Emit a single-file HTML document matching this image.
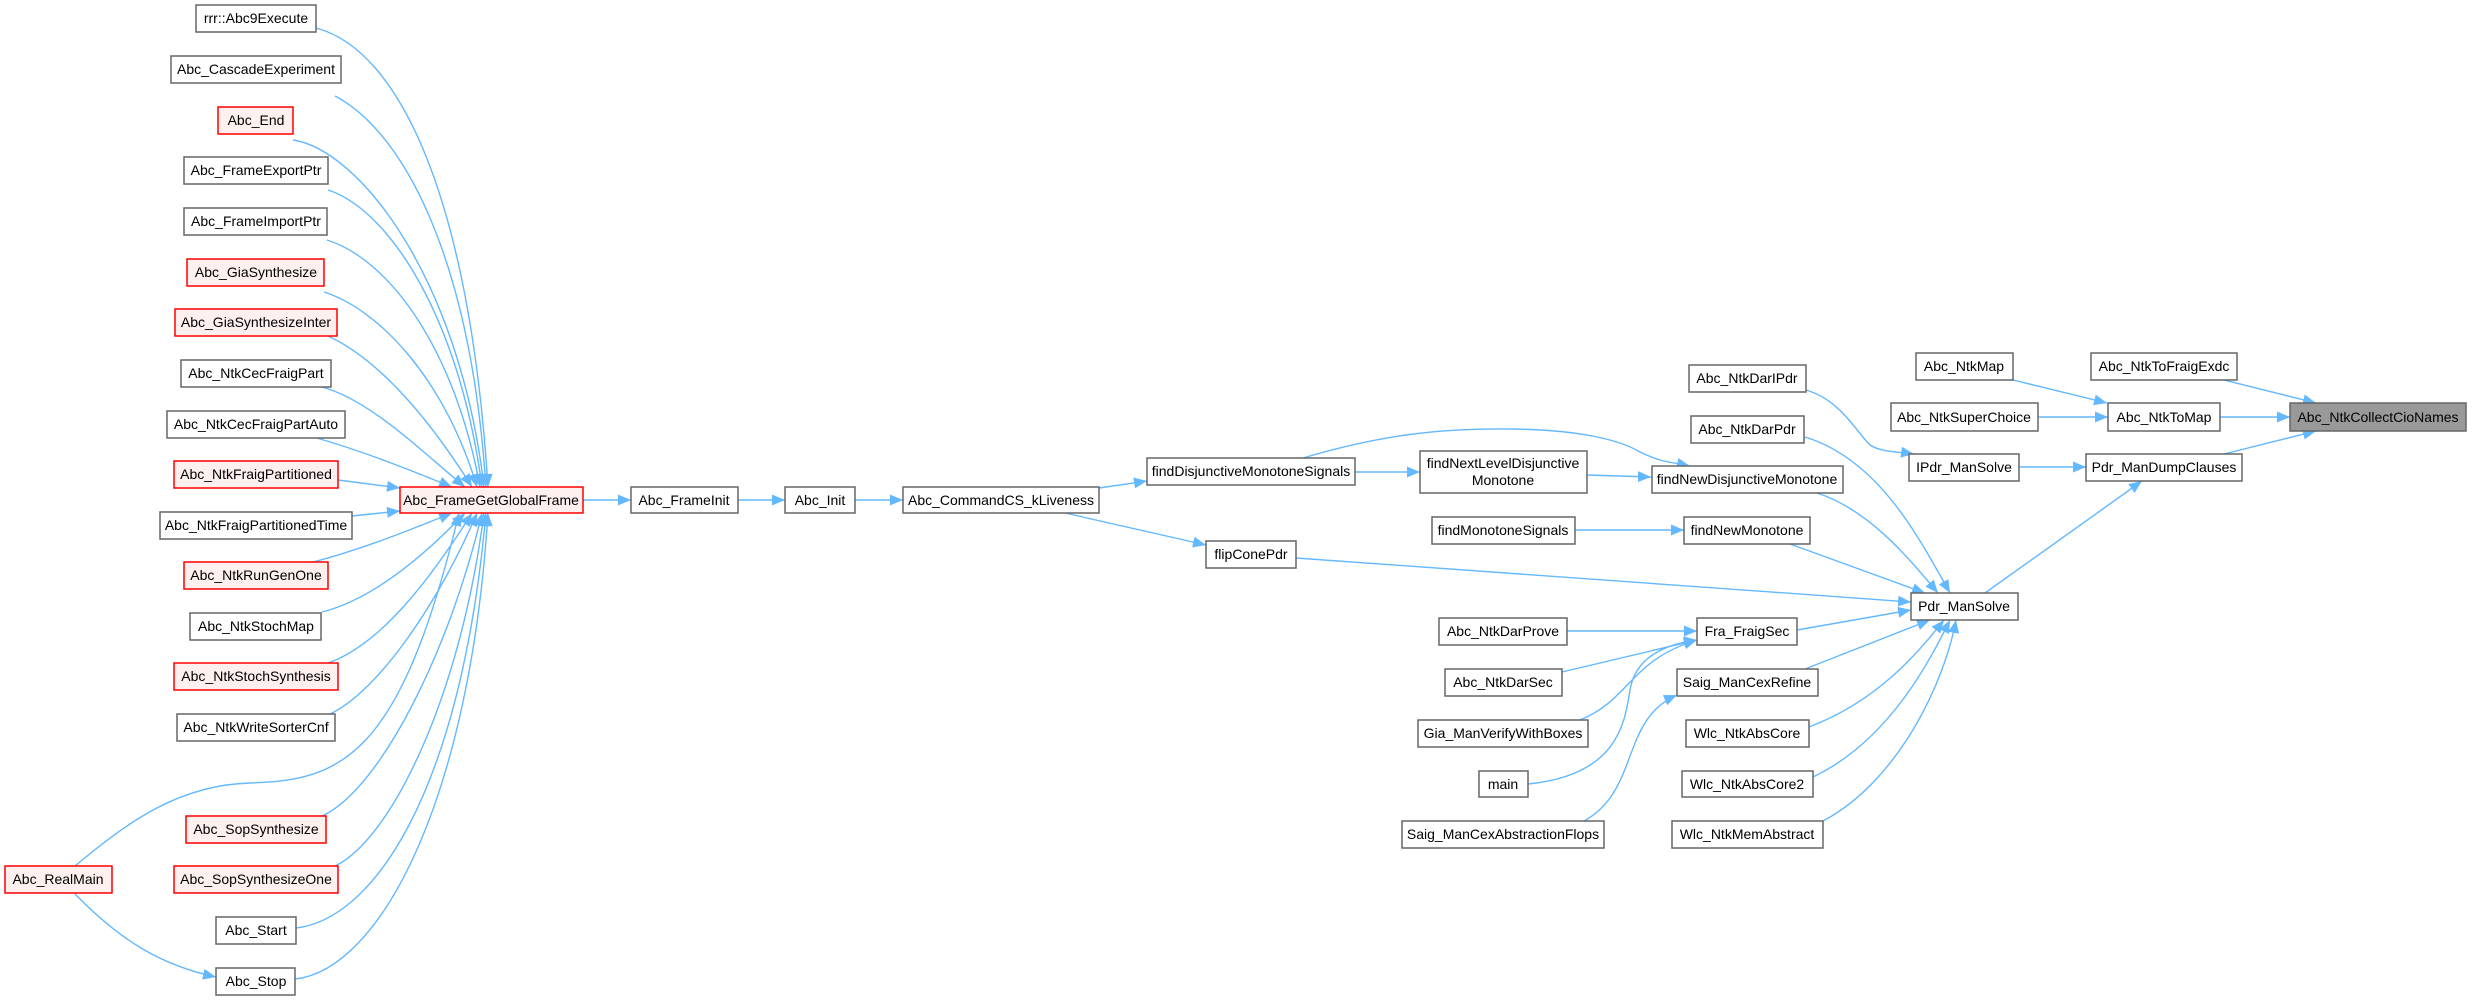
<!DOCTYPE html>
<html><head><meta charset="utf-8"><style>
html,body{margin:0;padding:0;background:#fff;}
svg{display:block;}
text{font-family:"Liberation Sans",Arial,sans-serif;font-size:14px;fill:#000;text-anchor:middle;}
.n{fill:#fff;stroke:#666;stroke-width:1.5;}
.r{fill:#fff0f0;stroke:#ff0000;stroke-width:1.5;}
.g{fill:#999;stroke:#666;stroke-width:1.5;}
.e{fill:none;stroke:#63b8ff;stroke-width:1.4;marker-end:url(#a);}
</style></head><body>
<svg width="2472" height="1000" viewBox="0 0 2472 1000" xmlns="http://www.w3.org/2000/svg">
<defs><marker id="a" markerUnits="userSpaceOnUse" markerWidth="14" markerHeight="12" refX="13" refY="5.5" orient="auto"><path d="M0,0 L13,5.5 L0,11 z" fill="#63b8ff"/></marker></defs>

<!-- edges to FrameGetGlobalFrame from above -->
<path class="e" d="M316,28 C400,50 470,200 488,487"/>
<path class="e" d="M335,96 C400,130 470,250 486,487"/>
<path class="e" d="M293,140 C360,150 460,280 484,487"/>
<path class="e" d="M328,190 C390,210 460,320 482,487"/>
<path class="e" d="M327,240 C390,260 455,350 480,487"/>
<path class="e" d="M324,292 C380,310 445,380 477,487"/>
<path class="e" d="M328,336 C380,360 430,420 472,487"/>
<path class="e" d="M322,387 C370,400 420,450 465,487"/>
<path class="e" d="M313,437 C360,450 410,470 452,487"/>
<path class="e" d="M338,480 L400,488"/>
<!-- from below -->
<path class="e" d="M352,516 L400,511"/>
<path class="e" d="M313,562 C360,550 410,530 452,513"/>
<path class="e" d="M322,612 C370,600 420,560 465,513"/>
<path class="e" d="M328,663 C380,645 430,580 472,513"/>
<path class="e" d="M330,714 C380,690 440,600 477,513"/>
<path class="e" d="M75,866 C130,820 180,785 250,783 C340,780 400,760 459,513"/>
<path class="e" d="M322,816 C380,790 450,650 482,513"/>
<path class="e" d="M335,866 C390,840 460,700 484,513"/>
<path class="e" d="M296,928 C370,920 460,800 486,513"/>
<path class="e" d="M295,979 C380,970 470,800 488,513"/>
<path class="e" d="M75,894 C120,940 160,965 216,977"/>

<!-- chain -->
<path class="e" d="M583,500 L631,500"/>
<path class="e" d="M738,500 L785,500"/>
<path class="e" d="M855,500 L903,500"/>
<path class="e" d="M1099,488 L1147,481"/>
<path class="e" d="M1065,513 L1206,545"/>
<path class="e" d="M1355,472 L1420,472"/>
<path class="e" d="M1587,475 L1651,477"/>
<path class="e" d="M1303,458 C1380,435 1440,428 1513,429 C1580,430 1620,440 1640,452 C1660,462 1670,462 1690,466"/>
<path class="e" d="M1575,530 L1684,530"/>
<path class="e" d="M1296,558 L1911,602"/>
<path class="e" d="M1817,493 C1870,510 1910,560 1938,593"/>
<path class="e" d="M1790,544 L1925,593"/>
<path class="e" d="M1806,390 C1840,400 1855,430 1870,445 C1880,452 1900,452 1914,454"/>
<path class="e" d="M1805,437 C1880,460 1920,540 1950,593"/>
<path class="e" d="M1797,630 L1911,610"/>
<path class="e" d="M1567,631 L1697,631"/>
<path class="e" d="M1562,672 L1697,640"/>
<path class="e" d="M1580,720 C1630,700 1630,660 1697,640"/>
<path class="e" d="M1528,784 C1620,775 1625,720 1630,690 C1635,660 1660,645 1697,640"/>
<path class="e" d="M1584,821 C1640,790 1620,720 1677,695"/>
<path class="e" d="M1805,669 L1930,620"/>
<path class="e" d="M1809,727 C1880,700 1920,650 1944,620"/>
<path class="e" d="M1813,777 C1890,740 1930,660 1950,620"/>
<path class="e" d="M1823,821 C1900,780 1945,680 1956,620"/>
<path class="e" d="M1985,593 L2142,481"/>
<path class="e" d="M2019,467 L2086,467"/>
<path class="e" d="M2224,454 L2316,431"/>
<path class="e" d="M2013,380 L2107,403"/>
<path class="e" d="M2038,417 L2108,417"/>
<path class="e" d="M2220,417 L2290,417"/>
<path class="e" d="M2224,380 L2316,403"/>

<!-- left column nodes -->
<rect class="n" x="196" y="5" width="120" height="27"/><text x="256" y="23">rrr::Abc9Execute</text>
<rect class="n" x="171" y="56" width="170" height="27"/><text x="256" y="74">Abc_CascadeExperiment</text>
<rect class="r" x="218" y="107" width="75" height="27"/><text x="256" y="125">Abc_End</text>
<rect class="n" x="184" y="157" width="144" height="27"/><text x="256" y="175">Abc_FrameExportPtr</text>
<rect class="n" x="184" y="208" width="143" height="27"/><text x="256" y="226">Abc_FrameImportPtr</text>
<rect class="r" x="187" y="259" width="137" height="27"/><text x="256" y="277">Abc_GiaSynthesize</text>
<rect class="r" x="175" y="309" width="162" height="27"/><text x="256" y="327">Abc_GiaSynthesizeInter</text>
<rect class="n" x="181" y="360" width="150" height="27"/><text x="256" y="378">Abc_NtkCecFraigPart</text>
<rect class="n" x="167" y="411" width="178" height="27"/><text x="256" y="429">Abc_NtkCecFraigPartAuto</text>
<rect class="r" x="174" y="461" width="164" height="27"/><text x="256" y="479">Abc_NtkFraigPartitioned</text>
<rect class="n" x="160" y="512" width="192" height="27"/><text x="256" y="530">Abc_NtkFraigPartitionedTime</text>
<rect class="r" x="184" y="562" width="144" height="27"/><text x="256" y="580">Abc_NtkRunGenOne</text>
<rect class="n" x="190" y="613" width="131" height="27"/><text x="256" y="631">Abc_NtkStochMap</text>
<rect class="r" x="174" y="663" width="164" height="27"/><text x="256" y="681">Abc_NtkStochSynthesis</text>
<rect class="n" x="177" y="714" width="158" height="27"/><text x="256" y="732">Abc_NtkWriteSorterCnf</text>
<rect class="r" x="186" y="816" width="140" height="27"/><text x="256" y="834">Abc_SopSynthesize</text>
<rect class="r" x="174" y="866" width="164" height="27"/><text x="256" y="884">Abc_SopSynthesizeOne</text>
<rect class="n" x="216" y="917" width="80" height="27"/><text x="256" y="935">Abc_Start</text>
<rect class="n" x="216" y="968" width="79" height="27"/><text x="256" y="986">Abc_Stop</text>
<rect class="r" x="5" y="866" width="107" height="27"/><text x="58" y="884">Abc_RealMain</text>

<!-- middle -->
<rect class="r" x="400" y="487" width="183" height="26"/><text x="491" y="505">Abc_FrameGetGlobalFrame</text>
<rect class="n" x="631" y="487" width="107" height="26"/><text x="684" y="505">Abc_FrameInit</text>
<rect class="n" x="785" y="487" width="70" height="26"/><text x="820" y="505">Abc_Init</text>
<rect class="n" x="903" y="487" width="196" height="26"/><text x="1001" y="505">Abc_CommandCS_kLiveness</text>
<rect class="n" x="1147" y="458" width="208" height="27"/><text x="1251" y="476">findDisjunctiveMonotoneSignals</text>
<rect class="n" x="1206" y="541" width="90" height="27"/><text x="1251" y="559">flipConePdr</text>
<rect class="n" x="1420" y="451" width="167" height="42"/><text x="1503" y="468">findNextLevelDisjunctive</text><text x="1503" y="485">Monotone</text>
<rect class="n" x="1432" y="517" width="143" height="27"/><text x="1503" y="535">findMonotoneSignals</text>
<rect class="n" x="1439" y="618" width="128" height="27"/><text x="1503" y="636">Abc_NtkDarProve</text>
<rect class="n" x="1445" y="669" width="117" height="27"/><text x="1503" y="687">Abc_NtkDarSec</text>
<rect class="n" x="1418" y="720" width="170" height="27"/><text x="1503" y="738">Gia_ManVerifyWithBoxes</text>
<rect class="n" x="1479" y="771" width="49" height="26"/><text x="1503" y="789">main</text>
<rect class="n" x="1402" y="821" width="202" height="27"/><text x="1503" y="839">Saig_ManCexAbstractionFlops</text>

<!-- right -->
<rect class="n" x="1689" y="365" width="117" height="27"/><text x="1747" y="383">Abc_NtkDarIPdr</text>
<rect class="n" x="1691" y="416" width="113" height="27"/><text x="1747" y="434">Abc_NtkDarPdr</text>
<rect class="n" x="1652" y="466" width="191" height="27"/><text x="1747" y="484">findNewDisjunctiveMonotone</text>
<rect class="n" x="1684" y="517" width="126" height="27"/><text x="1747" y="535">findNewMonotone</text>
<rect class="n" x="1697" y="618" width="100" height="27"/><text x="1747" y="636">Fra_FraigSec</text>
<rect class="n" x="1677" y="669" width="141" height="27"/><text x="1747" y="687">Saig_ManCexRefine</text>
<rect class="n" x="1686" y="720" width="123" height="27"/><text x="1747" y="738">Wlc_NtkAbsCore</text>
<rect class="n" x="1682" y="771" width="131" height="26"/><text x="1747" y="789">Wlc_NtkAbsCore2</text>
<rect class="n" x="1672" y="821" width="151" height="27"/><text x="1747" y="839">Wlc_NtkMemAbstract</text>

<rect class="n" x="1916" y="353" width="97" height="27"/><text x="1964" y="371">Abc_NtkMap</text>
<rect class="n" x="1891" y="403" width="147" height="28"/><text x="1964" y="422">Abc_NtkSuperChoice</text>
<rect class="n" x="1909" y="454" width="110" height="27"/><text x="1964" y="472">IPdr_ManSolve</text>
<rect class="n" x="1911" y="593" width="107" height="27"/><text x="1964" y="611">Pdr_ManSolve</text>

<rect class="n" x="2091" y="353" width="146" height="27"/><text x="2164" y="371">Abc_NtkToFraigExdc</text>
<rect class="n" x="2108" y="403" width="112" height="28"/><text x="2164" y="422">Abc_NtkToMap</text>
<rect class="n" x="2086" y="454" width="156" height="27"/><text x="2164" y="472">Pdr_ManDumpClauses</text>
<rect class="g" x="2290" y="403" width="176" height="28"/><text x="2378" y="422">Abc_NtkCollectCioNames</text>
</svg>
</body></html>
